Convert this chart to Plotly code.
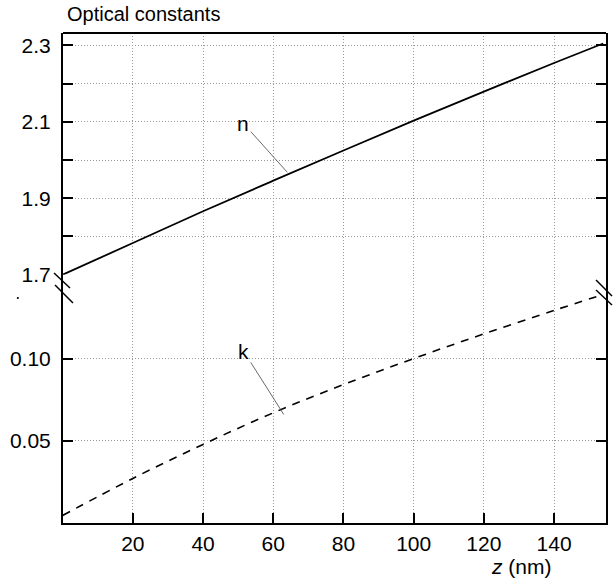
import plotly.graph_objects as go

# ---- data ----
z = [0, 20, 40, 60, 80, 100, 120, 140, 154]
n_vals = [1.700, 1.783, 1.866, 1.946, 2.025, 2.103, 2.179, 2.254, 2.305]
k_vals = [0.0046, 0.0271, 0.0478, 0.0670, 0.0842, 0.1000, 0.1150, 0.1293, 0.1390]

x_ticks = [20, 40, 60, 80, 100, 120, 140]
n_ticks = [1.7, 1.8, 1.9, 2.0, 2.1, 2.2, 2.3]
n_ticktext = ["1.7", "", "1.9", "", "2.1", "", "2.3"]
k_ticks = [0.05, 0.10]
k_ticktext = ["0.05", "0.10"]

title_text = "Optical constants"
x_title = "<i>z</i> (nm)"

# ---- layout geometry (pixels) ----
W, H = 614, 578
L, R, T, B = 63, 6, 33, 55
PW, PH = W - L - R, H - T - B
split = 0.5067

def px(xp):
    return (xp - L) / PW

def py(yp):
    return (H - B - yp) / PH

FONT = "Liberation Sans, Arial, sans-serif"

fig = go.Figure()
fig.add_trace(go.Scatter(x=z, y=n_vals, mode="lines", yaxis="y2",
                         line=dict(color="black", width=1.8, shape="spline"),
                         showlegend=False))
fig.add_trace(go.Scatter(x=z, y=k_vals, mode="lines", yaxis="y",
                         line=dict(color="black", width=1.6, dash="8px,7px", shape="spline"),
                         showlegend=False))

axis_common = dict(showline=True, linewidth=2, linecolor="black",
                   ticks="inside", ticklen=10, tickwidth=2, tickcolor="black",
                   showgrid=True, gridcolor="#9a9a9a", gridwidth=1, griddash="1px,2px",
                   zeroline=False, tickfont=dict(size=21, color="black", family=FONT))

fig.update_layout(
    width=W, height=H,
    margin=dict(l=L, r=R, t=T, b=B),
    paper_bgcolor="white", plot_bgcolor="white",
    font=dict(family=FONT, color="black"),
    xaxis=dict(range=[0.1, 154.8], tickvals=x_ticks, anchor="y", mirror=False,
               ticklabelstandoff=1, **axis_common),
    yaxis=dict(domain=[0, split], range=[0.0, 0.151], tickvals=k_ticks,
               ticktext=k_ticktext, mirror="ticks", anchor="x",
               ticklabelstandoff=6, **axis_common),
    yaxis2=dict(domain=[split, 1], range=[1.7, 2.3324], tickvals=n_ticks,
                ticktext=n_ticktext, mirror="ticks", anchor="x",
                ticklabelstandoff=6, **axis_common),
)

shapes = []
# top frame line
shapes.append(dict(type="line", xref="paper", yref="paper", x0=0, x1=1, y0=1, y1=1,
                   line=dict(color="black", width=2)))
# break marks
for (x0, y0, x1, y1) in [(54, 273, 70, 288), (55, 285, 73, 303),
                         (598, 280, 614, 296), (598, 290, 614, 305)]:
    shapes.append(dict(type="line", xref="paper", yref="paper",
                       x0=px(x0), y0=py(y0), x1=px(x1), y1=py(y1),
                       line=dict(color="black", width=1.5)))
# stray dot
shapes.append(dict(type="circle", xref="paper", yref="paper",
                   x0=px(16.6), x1=px(18.8), y0=py(299.1), y1=py(296.9),
                   fillcolor="black", line=dict(width=0)))
fig.update_layout(shapes=shapes)

annotations = [
    dict(text=title_text, xref="paper", yref="paper", x=px(65), y=py(14),
         xanchor="left", yanchor="middle", showarrow=False,
         font=dict(size=20, family=FONT, color="black")),
    dict(text=x_title, xref="paper", yref="paper", x=px(523), y=py(566),
         xanchor="center", yanchor="middle", showarrow=False,
         font=dict(size=21, family=FONT, color="black")),
    dict(text="n", x=z[3] + 4, y=1.968, xref="x", yref="y2", ax=-44, ay=-49,
         showarrow=True, arrowhead=0, arrowwidth=0.8, arrowcolor="#444",
         font=dict(size=21, family=FONT, color="black")),
    dict(text="k", x=z[3] + 3, y=0.066, xref="x", yref="y", ax=-40, ay=-63,
         showarrow=True, arrowhead=0, arrowwidth=0.8, arrowcolor="#444",
         font=dict(size=21, family=FONT, color="black")),
]
fig.update_layout(annotations=annotations)

fig.write_html("out.html", config={"displayModeBar": False},
               post_script="document.body.style.margin='0px';")
